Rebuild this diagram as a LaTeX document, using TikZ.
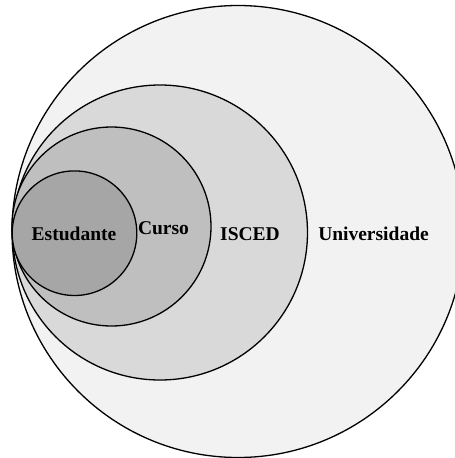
\documentclass[tikz,border=0pt]{standalone}
\usepackage{fontspec}
\setmainfont{Liberation Serif}
\begin{document}
\begin{tikzpicture}[x=1pt,y=-1pt,
  ring/.style={circle, draw=black, line width=1.3pt, inner sep=0pt, outer sep=0pt},
  lbl/.style={anchor=base, inner sep=0pt, font=\fontsize{19.5}{22}\selectfont\bfseries}]
  \useasboundingbox (0,0) rectangle (455,458);
  \clip (0,0) rectangle (455,458);
  % nested levels, largest first
  \node[ring, fill={rgb,255:red,242;green,242;blue,242}, minimum size=452pt] (univ) at (238,231.5) {};
  \node[ring, fill={rgb,255:red,217;green,217;blue,217}, minimum size=295pt] (isced) at (160,232.5) {};
  \node[ring, fill={rgb,255:red,191;green,191;blue,191}, minimum size=199pt] (curso) at (111.5,226.5) {};
  \node[ring, fill={rgb,255:red,166;green,166;blue,166}, minimum size=124.6pt] (estud) at (74.5,233.2) {};
  % labels
  \node[lbl] (tEstud) at (74,240) {Estudante};
  \node[lbl] (tCurso) at (163.5,234) {Curso};
  \node[lbl] (tIsced) at (250,240) {ISCED};
  \node[lbl] (tUniv) at (373.5,240) {Universidade};
\end{tikzpicture}
\end{document}
